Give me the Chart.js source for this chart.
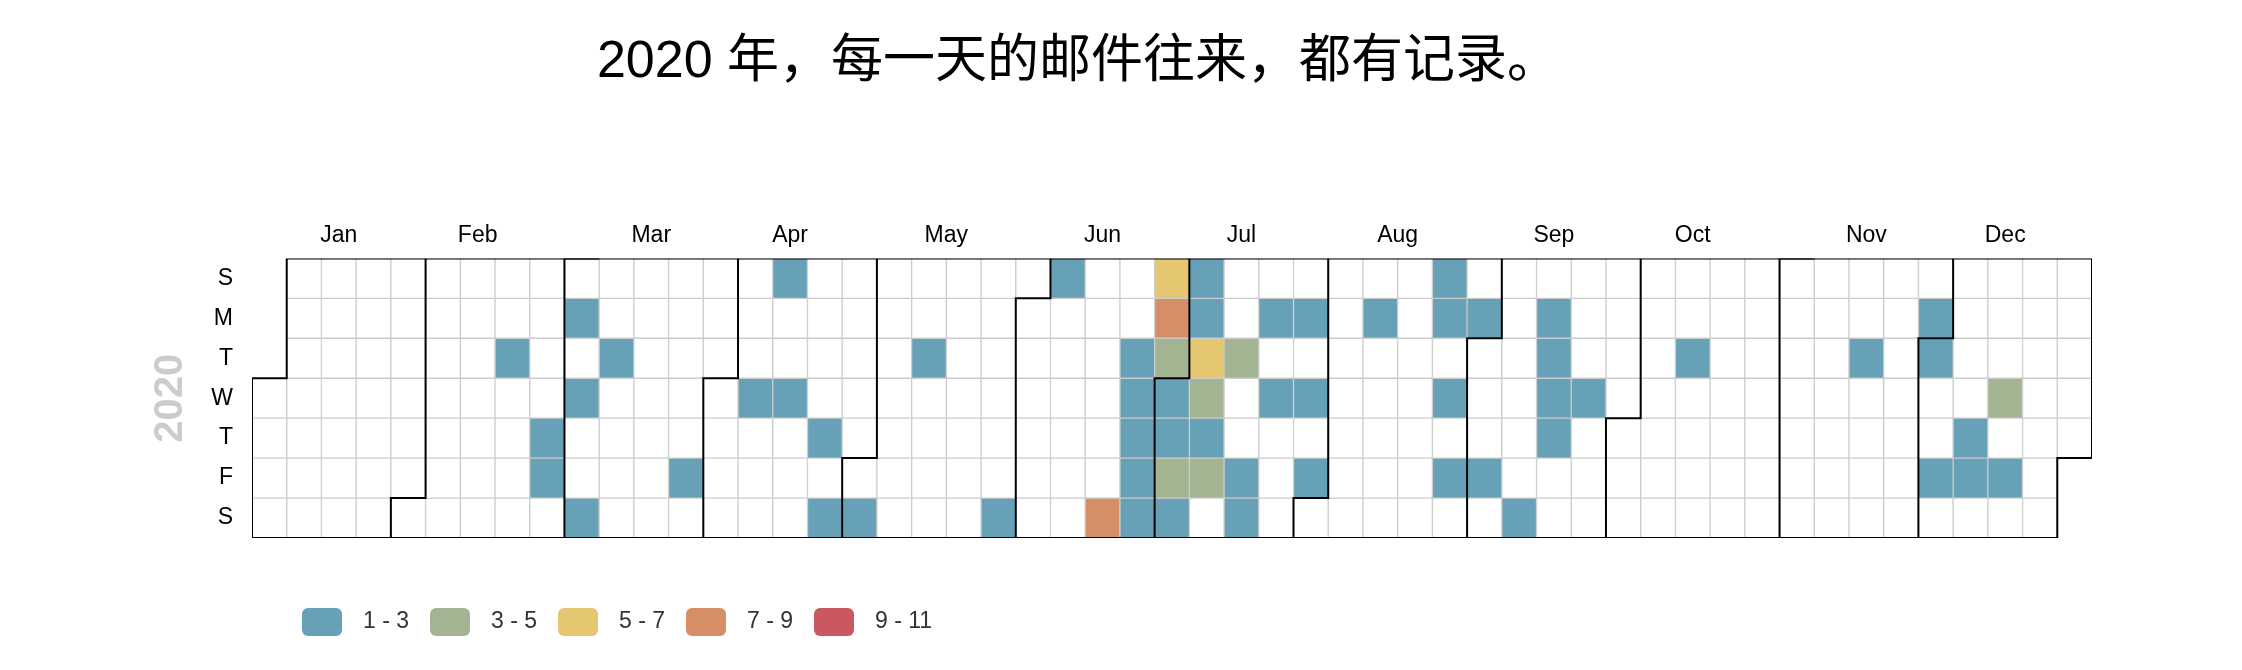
<!DOCTYPE html>
<html>
<head>
<meta charset="utf-8">
<script src="https://cdn.jsdelivr.net/npm/chart.js@4.4.1/dist/chart.umd.min.js"></script>
<style>
  html, body { margin: 0; padding: 0; background: #fff; }
  #wrap { width: 2242px; height: 670px; }
</style>
</head>
<body>
<div id="wrap"><canvas id="cal" width="2242" height="670"></canvas></div>
<script>
const year = 2020;
const titleText = '2020 年，每一天的邮件往来，都有记录。';
const dayLabels = ['S', 'M', 'T', 'W', 'T', 'F', 'S'];
const monthLabels = ['Jan', 'Feb', 'Mar', 'Apr', 'May', 'Jun', 'Jul', 'Aug', 'Sep', 'Oct', 'Nov', 'Dec'];

// days that had mail, and how many
const mailDates = [
  '2020-02-18', '2020-02-27', '2020-02-28',
  '2020-03-02', '2020-03-04', '2020-03-07', '2020-03-10', '2020-03-27',
  '2020-04-08', '2020-04-12', '2020-04-15', '2020-04-23', '2020-04-25',
  '2020-05-02', '2020-05-12', '2020-05-30',
  '2020-06-07', '2020-06-20', '2020-06-23', '2020-06-24', '2020-06-25', '2020-06-26',
  '2020-06-27', '2020-06-28', '2020-06-29', '2020-06-30',
  '2020-07-01', '2020-07-02', '2020-07-03', '2020-07-04', '2020-07-05', '2020-07-06',
  '2020-07-07', '2020-07-08', '2020-07-09', '2020-07-10', '2020-07-14', '2020-07-17',
  '2020-07-18', '2020-07-20', '2020-07-22', '2020-07-27', '2020-07-29', '2020-07-31',
  '2020-08-10', '2020-08-23', '2020-08-24', '2020-08-26', '2020-08-28', '2020-08-31',
  '2020-09-04', '2020-09-12', '2020-09-14', '2020-09-15', '2020-09-16', '2020-09-17', '2020-09-23',
  '2020-10-13',
  '2020-11-17', '2020-11-30',
  '2020-12-01', '2020-12-04', '2020-12-10', '2020-12-11', '2020-12-16', '2020-12-18'
];
const mailCounts = [
  2, 2, 2,
  2, 2, 2, 2, 2,
  2, 2, 2, 2, 2,
  2, 2, 2,
  2, 8, 2, 2, 2, 2,
  2, 6, 8, 4,
  2, 2, 4, 2, 2, 2,
  6, 4, 2, 4, 4, 2,
  2, 2, 2, 2, 2, 2,
  2, 2, 2, 2, 2, 2,
  2, 2, 2, 2, 2, 2, 2,
  2,
  2, 2,
  2, 2, 2, 2, 4, 2
];

const pieceLabels = ['1 - 3', '3 - 5', '5 - 7', '7 - 9', '9 - 11'];
const pieceMax = [3, 5, 7, 9, 11];
const pieceColors = ['#67a1b8', '#a3b493', '#e5c771', '#d68e67', '#cb5860'];

Chart.defaults.font.family = "'Liberation Sans', 'Noto Sans CJK SC', sans-serif";

const firstWeekday = new Date(Date.UTC(year, 0, 1)).getUTCDay();
function slotOf(m, d) {
  return (Date.UTC(year, m, d) - Date.UTC(year, 0, 1)) / 864e5 + firstWeekday;
}
function colorFor(v) {
  if (!v) return '#fff';
  for (let i = 0; i < pieceMax.length; i++) {
    if (v <= pieceMax[i]) return pieceColors[i];
  }
  return pieceColors[pieceColors.length - 1];
}

// one cell per day of the year
const cells = [];
for (let doy = 0; ; doy++) {
  const date = new Date(Date.UTC(year, 0, 1 + doy));
  if (date.getUTCFullYear() !== year) break;
  const slot = doy + firstWeekday;
  const key = date.toISOString().slice(0, 10);
  const k = mailDates.indexOf(key);
  cells.push({ x: Math.floor(slot / 7), y: [slot % 7, slot % 7 + 1], v: k >= 0 ? mailCounts[k] : 0 });
}
const weeks = [];
for (let w = 0; w <= cells[cells.length - 1].x; w++) weeks.push(w);

// month label positions (middle week of each month)
const monthCenters = monthLabels.map((_, m) => {
  const a = Math.floor(slotOf(m, 1) / 7);
  const b = Math.floor(slotOf(m + 1, 0) / 7);
  return (a + b) / 2;
});

// month split lines
const splitSets = [];
for (let m = 1; m < 12; m++) {
  const s = slotOf(m, 1), w = Math.floor(s / 7), r = s % 7;
  splitSets.push([{ x: w + 0.5, y: 0 }, { x: w + 0.5, y: r }, { x: w - 0.5, y: r }, { x: w - 0.5, y: 7 }]);
}
const s0 = slotOf(0, 1), s1 = slotOf(11, 31);
const w0 = Math.floor(s0 / 7), r0 = s0 % 7, w1 = Math.floor(s1 / 7), r1 = s1 % 7;
splitSets.push([
  { x: w0 - 0.5, y: 7 }, { x: w0 - 0.5, y: r0 }, { x: w0 + 0.5, y: r0 }, { x: w0 + 0.5, y: 0 },
  { x: w1 + 0.5, y: 0 }, { x: w1 + 0.5, y: r1 + 1 }, { x: w1 - 0.5, y: r1 + 1 }, { x: w1 - 0.5, y: 7 },
  { x: w0 - 0.5, y: 7 }
]);

const pieceLegend = {
  id: 'pieceLegend',
  afterDraw(chart) {
    const ctx = chart.ctx;
    ctx.save();
    ctx.font = "23px 'Liberation Sans', sans-serif";
    ctx.textBaseline = 'middle';
    pieceLabels.forEach((lab, i) => {
      const x = 302 + i * 128, y = 608;
      ctx.fillStyle = pieceColors[i];
      ctx.beginPath();
      ctx.roundRect(x, y, 40, 28, 6);
      ctx.fill();
      ctx.fillStyle = '#333';
      ctx.fillText(lab, x + 61, y + 14);
    });
    ctx.restore();
  }
};

const lineSets = splitSets.map(pts => ({
  type: 'line',
  data: pts,
  xAxisID: 'x2',
  yAxisID: 'y',
  borderColor: '#000',
  borderWidth: 2,
  pointRadius: 0,
  tension: 0,
  fill: false,
  borderJoinStyle: 'miter',
  order: 1
}));

var ctx1 = document.getElementById('cal');
const chart = new Chart(ctx1, {
  type: 'bar',
  data: {
    labels: weeks,
    datasets: [
      {
        label: 'mail',
        data: cells,
        xAxisID: 'x',
        yAxisID: 'y',
        grouped: false,
        backgroundColor: c => colorFor(c.raw ? c.raw.v : 0),
        borderColor: '#ccc',
        borderWidth: 1,
        borderSkipped: false,
        barPercentage: 1,
        categoryPercentage: 1,
        order: 2
      },
      ...lineSets
    ]
  },
  options: {
    responsive: false,
    animation: false,
    layout: { padding: { left: 64, right: 150, top: 0, bottom: 132 } },
    plugins: {
      legend: { display: false },
      tooltip: { enabled: false },
      title: {
        display: true,
        text: titleText,
        color: '#000',
        font: { size: 52, weight: 'normal' },
        padding: { top: 31, bottom: 125 }
      }
    },
    scales: {
      x: { type: 'category', display: false, offset: true },
      x2: {
        type: 'linear',
        position: 'top',
        min: -0.5,
        max: weeks.length - 0.5,
        offset: false,
        grid: { display: false, drawTicks: false },
        border: { display: false },
        ticks: {
          autoSkip: false,
          maxRotation: 0,
          padding: 9,
          color: '#000',
          font: { size: 23 },
          callback: (v, i) => monthLabels[i]
        },
        afterBuildTicks: s => { s.ticks = monthCenters.map(v => ({ value: v })); },
        afterFit: s => { s.height = 40; }
      },
      y: {
        type: 'linear',
        min: 0,
        max: 7,
        reverse: true,
        grid: { display: false, drawTicks: false },
        border: { display: false },
        ticks: {
          autoSkip: false,
          padding: 19,
          color: '#000',
          font: { size: 23 },
          callback: (v, i) => dayLabels[i]
        },
        title: {
          display: true,
          text: String(year),
          color: '#ccc',
          font: { size: 40, weight: 'bold' },
          padding: { top: 83, bottom: 0 }
        },
        afterBuildTicks: s => { s.ticks = dayLabels.map((_, i) => ({ value: i + 0.5 })); },
        afterFit: s => { s.width = 188; }
      }
    }
  },
  plugins: [pieceLegend]
});
</script>
</body>
</html>
